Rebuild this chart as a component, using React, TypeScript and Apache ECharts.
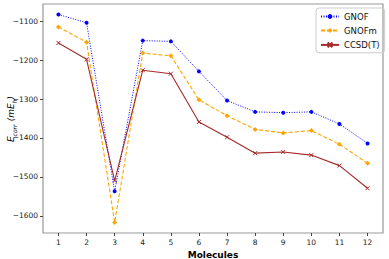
import React, { useEffect, useRef } from "react";
import * as echarts from "echarts";

const molecules = [1, 2, 3, 4, 5, 6, 7, 8, 9, 10, 11, 12];
const gnof = [-1083, -1104, -1537, -1150, -1152, -1229, -1304, -1333, -1335, -1333, -1364, -1414];
const gnofm = [-1115, -1154, -1617, -1182, -1189, -1302, -1343, -1378, -1387, -1381, -1416, -1465];
const ccsdt = [-1156, -1198, -1510, -1226, -1235, -1359, -1398, -1439, -1436, -1444, -1471, -1529];
const yTicks = [-1600, -1500, -1400, -1300, -1200, -1100];

const fmt = (v: number) => String(v).replace("-", "\u2212");
const pts = (arr: number[]) => molecules.map((m, i) => [m, arr[i]]);

export default function App() {
  const ref = useRef<HTMLDivElement>(null);
  useEffect(() => {
    if (!ref.current) return;
    const chart = echarts.init(ref.current, null, { renderer: "svg" });
    const font = "DejaVu Sans";
    chart.setOption({
      animation: false,
      textStyle: { fontFamily: font },
      grid: {
        left: 43, right: 6, top: 4, bottom: 26,
        outerBoundsMode: "none", containLabel: false,
        show: true, borderColor: "#999", borderWidth: 1.2, backgroundColor: "transparent",
      },
      graphic: [
        {
          type: "text",
          x: 11, y: 119, rotation: Math.PI / 2,
          style: {
            text: "{i|E}{s|corr} {n|(m}{i|E}{s|h}{n|)}",
            align: "center", verticalAlign: "middle",
            rich: {
              i: { fontFamily: font, fontSize: 9, fontStyle: "italic", fill: "#000", color: "#000" },
              n: { fontFamily: font, fontSize: 9, fontStyle: "italic", fill: "#000", color: "#000" },
              s: { fontFamily: font, fontSize: 6, fontStyle: "italic", fill: "#000", color: "#000", verticalAlign: "bottom", padding: [4, 0, 0, 0] },
            },
          },
        },
      ],
      legend: {
        orient: "vertical",
        left: 316, top: 8,
        borderColor: "#ccc", borderWidth: 1, borderRadius: 3,
        padding: [4, 5, 3, 4],
        itemWidth: 18, itemHeight: 6, itemGap: 5,
        textStyle: { fontFamily: font, fontSize: 8.5, color: "#111" },
        data: ["GNOF", "GNOFm", "CCSD(T)"],
      },
      xAxis: {
        type: "value", min: 0.45, max: 12.55,
        name: "Molecules", nameLocation: "middle", nameGap: 15,
        nameTextStyle: { fontFamily: font, fontSize: 9, fontWeight: "bold", color: "#000" },
        axisLine: { show: false },
        splitLine: { show: false },
        axisTick: { show: true, length: 3, customValues: molecules, lineStyle: { color: "#444" } },
        axisLabel: { customValues: molecules, fontSize: 7.5, color: "#222", margin: 5, fontFamily: font },
      },
      yAxis: {
        type: "value", min: -1644, max: -1056,
        axisLine: { show: false },
        splitLine: { show: false },
        axisTick: { show: true, length: 3, customValues: yTicks, lineStyle: { color: "#444" } },
        axisLabel: { customValues: yTicks, fontSize: 7.5, color: "#222", margin: 5, fontFamily: font, formatter: (v: number) => fmt(v) },
      },
      series: [
        {
          name: "GNOF", type: "line", data: pts(gnof),
          symbol: "circle", symbolSize: 4,
          lineStyle: { color: "#0000ff", width: 1, type: [1, 1.5] },
          itemStyle: { color: "#0000ff" },
        },
        {
          name: "GNOFm", type: "line", data: pts(gnofm),
          symbol: "diamond", symbolSize: 5,
          lineStyle: { color: "#ffa500", width: 1.1, type: [4, 2] },
          itemStyle: { color: "#ffa500" },
        },
        {
          name: "CCSD(T)", type: "line", data: pts(ccsdt),
          symbol: "path://M0,0L10,10M10,0L0,10", symbolSize: 4,
          lineStyle: { color: "#a52a2a", width: 1.1 },
          itemStyle: { color: "none", borderColor: "#a52a2a", borderWidth: 1 },
        },
      ],
    });
    return () => chart.dispose();
  }, []);
  return <div ref={ref} style={{ width: 389, height: 259, position: "absolute", left: 0, top: 0 }} />;
}
